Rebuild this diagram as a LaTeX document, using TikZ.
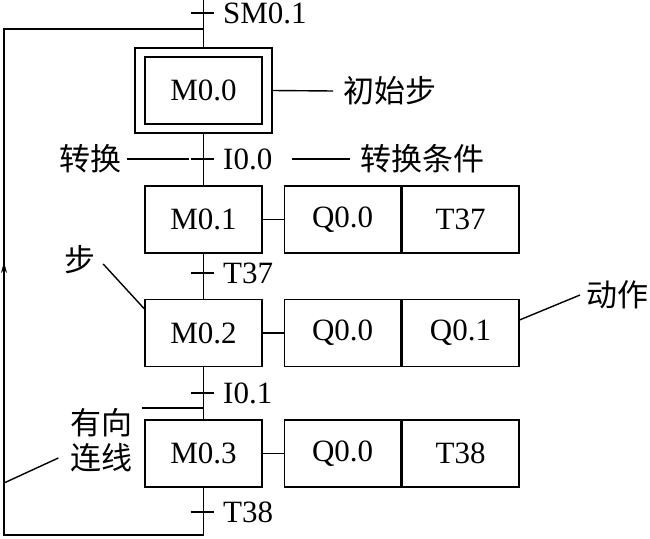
\documentclass[tikz,border=0pt]{standalone}
\usepackage{fontspec}
\setmainfont{Liberation Serif}
\newfontfamily\cjk{Noto Sans CJK SC}
\usepackage{tikz}
\usetikzlibrary{arrows.meta,positioning,calc}

\tikzset{
  stepbox/.style={draw, minimum width=117pt, minimum height=67pt, inner sep=0pt,
    font=\fontsize{31}{36}\selectfont},
  actbox/.style={draw, minimum width=116.5pt, minimum height=67pt, inner sep=0pt,
    font=\fontsize{31}{36}\selectfont},
  cond/.style={anchor=west, inner sep=0pt, font=\fontsize{31}{36}\selectfont},
  note/.style={inner sep=0pt, font=\cjk\fontsize{31}{35}\selectfont},
}

\begin{document}
\begin{tikzpicture}[x=1pt,y=-1pt,line width=1.4pt]
  \useasboundingbox (0,0) rectangle (650,538);
  % initial step
  \node[stepbox] (m0) at (203.5,90.5) {M0.0};
  \node[draw, minimum width=137pt, minimum height=85pt, inner sep=0pt] (m0o) at (m0) {};
  % steps with their actions
  \foreach \n/\y/\a/\b in {1/219.5/Q0.0/T37, 2/333/Q0.0/Q0.1, 3/453.5/Q0.0/T38} {
    \node[stepbox] (m\n) at (203.5,\y) {M0.\n};
    \node[actbox, right=21pt of m\n] (a\n) {\a};
    \node[actbox, right=0pt of a\n] (b\n) {\b};
    \draw (m\n.east) -- (a\n.west);
  }
  % transitions
  \foreach \t/\y/\lbl in {0/13/SM0.1, 1/159/I0.0, 2/273/T37, 3/393/I0.1, 4/512/T38} {
    \coordinate (t\t) at (203.5,\y);
    \draw ([xshift=-13pt]t\t) -- ([xshift=10pt]t\t);
    \node[cond] (c\t) at ([xshift=19pt]t\t) {\lbl};
  }
  % main line
  \coordinate (top) at (203.5,0);
  \coordinate (bot) at (203.5,535);
  \draw (top) -- (m0o.north);
  \draw (m0o.south) -- (m1.north);
  \draw (m1.south) -- (m2.north);
  \draw (m2.south) -- (m3.north);
  \draw (m3.south) -- (bot);
  % return line
  \coordinate (bl) at (4,535);
  \coordinate (tl) at (4,29);
  \coordinate (join) at (203.5,29);
  \coordinate (arr) at (4,262);
  \draw (bot) -- (bl) -- (tl) -- (join);
  \draw[-{Stealth[length=11pt,width=6pt]}] (bl) -- (arr);
  % notes
  \node[note, anchor=west] (ninit) at (343,91) {初始步};
  \draw (m0o.east) -- ([xshift=-10pt]ninit.west);
  \node[note, anchor=east] (ntr) at (122,159) {转换};
  \draw ([xshift=5pt]ntr.east) -- ([xshift=-15pt]t1);
  \node[note, anchor=west] (ncond) at (360,159) {转换条件};
  \draw ([xshift=-68pt]ncond.west) -- ([xshift=-10pt]ncond.west);
  \node[note] (nstep) at (80,260) {步};
  \draw ([xshift=7pt,yshift=-4pt]nstep.east) -- ([yshift=-10pt]m2.north west);
  \node[note, anchor=west] (nact) at (586,295) {动作};
  \draw ([yshift=13pt]b2.east) -- ([xshift=-6pt]nact.west);
  \node[note, align=center] (ndir) at (101,440) {有向\\连线};
  \coordinate (j3) at (203.5,408);
  \draw ([xshift=-62pt]j3) -- (j3);
  \coordinate (dl) at (4,483);
  \draw (dl) -- ([xshift=-11pt,yshift=-18pt]ndir.west);
\end{tikzpicture}
\end{document}
